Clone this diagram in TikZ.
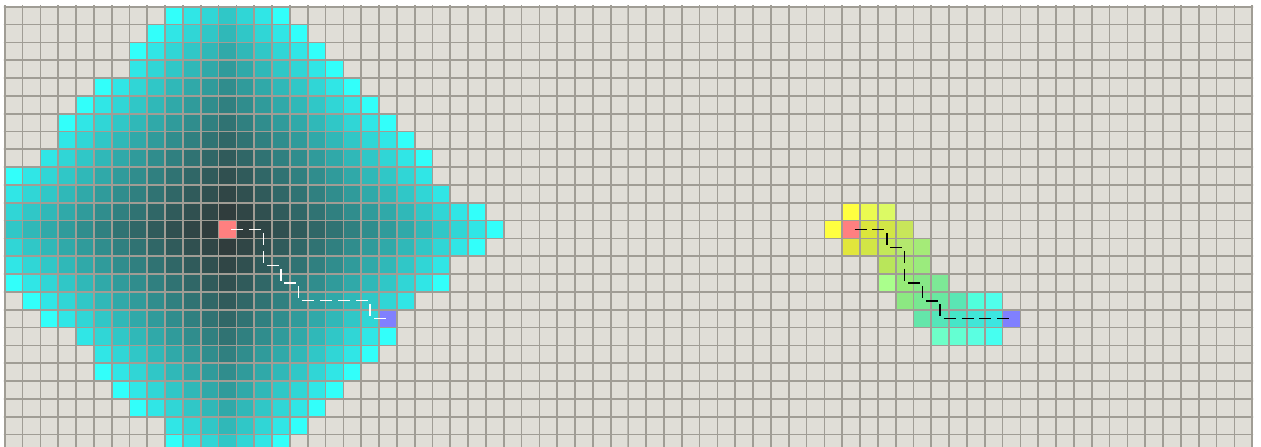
\documentclass[tikz,border=0pt]{standalone}
\definecolor{bg}{RGB}{224,222,215}
\definecolor{gridc}{RGB}{160,157,149}
\definecolor{startc}{RGB}{255,128,128}
\definecolor{goalc}{RGB}{128,128,255}
\definecolor{front}{RGB}{50,255,250}
\tikzset{
  gl/.style={draw=gridc, line width=1.7pt},
  pathdash/.style={dash pattern=on 12pt off 5.825pt, dash phase=14.325pt, line width=1.3pt},
}
\begin{document}
\begin{tikzpicture}[x=1pt,y=-1pt]
\def\p{17.825}
\fill[white] (0,0) rectangle (1261,447);
\useasboundingbox (0,0) rectangle (1261,447);
% ---------- left panel (breadth first) ----------
\begin{scope}
\clip (3.85,5.85) rectangle (626.8,447);
\fill[bg] (3.85,5.85) rectangle (626.8,447);
\foreach \r/\a/\b in {0/9/15, 1/8/16, 2/7/17, 3/7/18, 4/5/19, 5/4/20, 6/3/21, 7/3/22, 8/2/23, 9/0/23, 10/0/24, 11/0/26, 12/0/27, 13/0/26, 14/0/24, 15/0/24, 16/1/22, 17/2/21, 18/4/21, 19/5/20, 20/5/19, 21/6/18, 22/7/17, 23/9/16, 24/9/15}{
  \foreach \c in {\a,...,\b}{
    \pgfmathtruncatemacro\d{abs(\c-12)+abs(\r-12)}
    \ifnum\d>14
      \colorlet{cc}{front}
    \else
      \pgfmathtruncatemacro\g{55+175*((\d/14)^1.25)}
      \definecolor{cc}{RGB}{48,\g,\g}
    \fi
    \fill[cc] ({4.7+\c*\p},{6.7+\r*\p}) rectangle ++(\p,\p);
  }
}
\fill[startc] ({4.7+12*\p},{6.7+12*\p}) rectangle ++(\p,\p);
\fill[goalc] ({4.7+21*\p},{6.7+17*\p}) rectangle ++(\p,\p);
\foreach \k in {0,...,35} \draw[gl] ({4.7+\k*\p},0) -- ({4.7+\k*\p},447);
\foreach \k in {0,...,25} \draw[gl] (0,{6.7+\k*\p}) -- (640,{6.7+\k*\p});
\end{scope}
% left path
\foreach \n/\c/\r in {l0/12/12, l1/14/12, l2/14/14, l3/15/14, l4/15/15, l5/16/15, l6/16/16, l7/20/16, l8/20/17, l9/21/17}
  \coordinate (\n) at ({4.7+(\c+0.5)*\p},{6.7+(\r+0.5)*\p});
\draw[pathdash, black, shift={(0.9,0.9)}] (l0) -- (l1) -- (l2) -- (l3) -- (l4) -- (l5) -- (l6) -- (l7) -- (l8) -- (l9);
\draw[pathdash, white] (l0) -- (l1) -- (l2) -- (l3) -- (l4) -- (l5) -- (l6) -- (l7) -- (l8) -- (l9);
% ---------- right panel (A*) ----------
\begin{scope}
\clip (627.45,5.85) rectangle (1253.1,447);
\fill[bg] (627.45,5.85) rectangle (1253.1,447);
\foreach \c/\r/\R/\G/\B in {12/11/255/255/64, 13/11/235/250/80, 14/11/220/250/100,
  11/12/255/255/64, 13/12/220/230/60, 14/12/210/230/70, 15/12/200/230/90,
  12/13/225/230/60, 13/13/210/230/70, 14/13/195/232/90, 15/13/180/232/110, 16/13/165/235/120,
  14/14/185/230/90, 15/14/170/232/110, 16/14/155/235/125,
  14/15/170/255/140, 15/15/150/235/120, 16/15/135/232/135, 17/15/125/232/150,
  15/16/140/232/130, 16/16/120/232/145, 17/16/105/232/160, 18/16/90/230/180, 19/16/80/255/220, 20/16/80/255/235,
  16/17/100/230/170, 17/17/85/230/185, 18/17/70/230/200, 19/17/65/230/215, 20/17/60/230/225,
  17/18/110/255/200, 18/18/100/255/210, 19/18/90/255/225, 20/18/70/255/240}{
  \definecolor{cc}{RGB}{\R,\G,\B}
  \fill[cc] ({628.3+\c*\p},{6.7+\r*\p}) rectangle ++(\p,\p);
}
\fill[startc] ({628.3+12*\p},{6.7+12*\p}) rectangle ++(\p,\p);
\fill[goalc] ({628.3+21*\p},{6.7+17*\p}) rectangle ++(\p,\p);
\foreach \k in {0,...,35} \draw[gl] ({628.3+\k*\p},0) -- ({628.3+\k*\p},447);
\foreach \k in {0,...,25} \draw[gl] (620,{6.7+\k*\p}) -- (1261,{6.7+\k*\p});
\end{scope}
% right path
\foreach \n/\c/\r in {r0/12/12, r1/14/12, r2/14/13, r3/15/13, r4/15/15, r5/16/15, r6/16/16, r7/17/16, r8/17/17, r9/21/17}
  \coordinate (\n) at ({628.3+(\c+0.5)*\p},{6.7+(\r+0.5)*\p});
\draw[pathdash, black, line width=1.6pt] (r0) -- (r1) -- (r2) -- (r3) -- (r4) -- (r5) -- (r6) -- (r7) -- (r8) -- (r9);
\end{tikzpicture}
\end{document}
